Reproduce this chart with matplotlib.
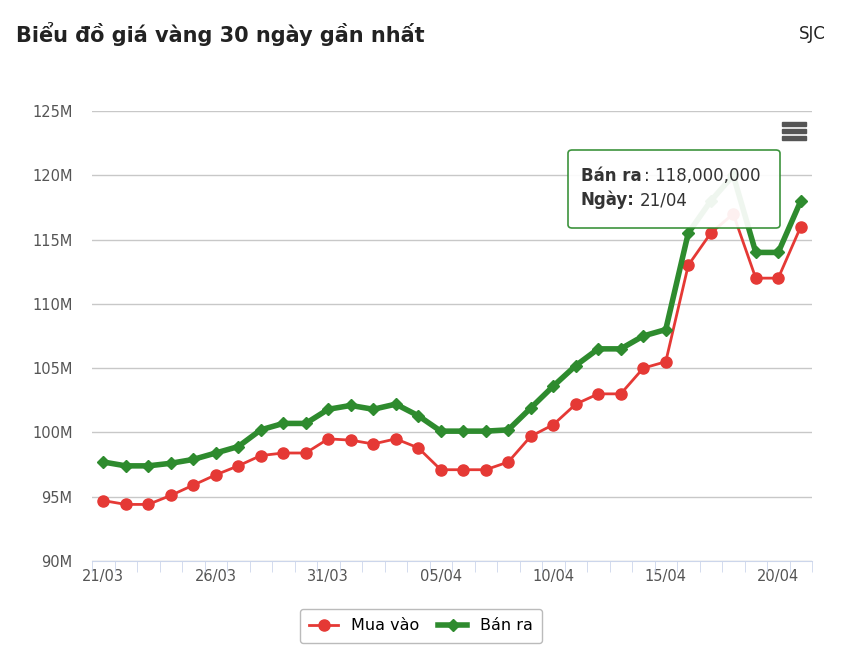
import matplotlib
matplotlib.use("Agg")
import matplotlib.pyplot as plt
from matplotlib.patches import FancyBboxPatch, Rectangle

dates = ["21/03","22/03","23/03","24/03","25/03","26/03","27/03","28/03","29/03","30/03","31/03",
         "01/04","02/04","03/04","04/04","05/04","06/04","07/04","08/04","09/04","10/04","11/04",
         "12/04","13/04","14/04","15/04","16/04","17/04","18/04","19/04","20/04","21/04"]
mua_vao = [94.7,94.4,94.4,95.1,95.9,96.7,97.4,98.2,98.4,98.4,99.5,99.4,99.1,99.5,98.8,97.1,
           97.1,97.1,97.7,99.7,100.6,102.2,103.0,103.0,105.0,105.5,113.0,115.5,117.0,112.0,112.0,116.0]
ban_ra = [97.7,97.4,97.4,97.6,97.9,98.4,98.9,100.2,100.7,100.7,101.8,102.1,101.8,102.2,101.3,100.1,
          100.1,100.1,100.2,101.9,103.6,105.2,106.5,106.5,107.5,108.0,115.5,118.0,120.0,114.0,114.0,118.0]
yticks = [90,95,100,105,110,115,120,125]

W, H = 842, 651
fig = plt.figure(figsize=(W/100, H/100), dpi=100)
ax = fig.add_axes([92/W, 1-561/H, (812-92)/W, (561-111)/H])
x = list(range(len(dates)))
red, green = "#e53935", "#2e8b2e"
ax.plot(x, mua_vao, color=red, lw=2, marker="o", ms=8, label="Mua vào", zorder=3)
ax.plot(x, ban_ra, color=green, lw=4, marker="D", ms=6, label="Bán ra", zorder=4)
ax.set_xlim(-0.5, len(dates)-0.5)
ax.set_ylim(90, 125)
ax.set_yticks(yticks)
ax.set_yticklabels([f"{v}M" for v in yticks], color="#555555", fontsize=10.5)
ax.set_xticks(x[::5])
ax.set_xticklabels(dates[::5], color="#555555", fontsize=10.5)
ax.set_xticks([i-0.5 for i in range(len(dates)+1)], minor=True)
ax.tick_params(axis="x", which="major", length=0, pad=6)
ax.tick_params(axis="x", which="minor", length=8, color="#ccd6eb")
ax.tick_params(axis="y", length=0, pad=14)
ax.grid(axis="y", color="#c8c8c8", lw=1)
ax.set_axisbelow(True)
for s in ["top","right","left"]:
    ax.spines[s].set_visible(False)
ax.spines["bottom"].set_color("#ccd6eb")

fig.text(16/W, 1-34/H, "Biểu đồ giá vàng 30 ngày gần nhất", fontsize=15, fontweight="bold",
         color="#222222", va="center")
fig.text(826/W, 1-34/H, "SJC", fontsize=12, color="#222222", va="center", ha="right")

# menu icon
for yy in [124, 131, 138]:
    fig.patches.append(Rectangle((782/W, 1-(yy+2)/H), 24/W, 4/H, transform=fig.transFigure,
                                 color="#555555"))

# tooltip
fig.patches.append(FancyBboxPatch((568/W, 1-228/H), 212/W, 78/H, boxstyle="round,pad=0,rounding_size=0.005",
                                  transform=fig.transFigure, fc="white", ec="#2e8b2e", lw=1.2, alpha=0.93, zorder=10))
fig.text(581/W, 1-176/H, "Bán ra", fontsize=12, fontweight="bold", color="#333", va="center", zorder=11)
fig.text(644/W, 1-176/H, ": 118,000,000", fontsize=12, color="#333", va="center", zorder=11)
fig.text(581/W, 1-200/H, "Ngày:", fontsize=12, fontweight="bold", color="#333", va="center", zorder=11)
fig.text(640/W, 1-200/H, "21/04", fontsize=12, color="#333", va="center", zorder=11)

leg = fig.legend(loc="center", bbox_to_anchor=(421/W, 1-626/H), ncol=2, frameon=True,
                 fontsize=11.5, handlelength=1.8, columnspacing=1.2, borderpad=0.6)
leg.get_frame().set_edgecolor("#aaaaaa")
leg.get_frame().set_linewidth(1)
fig.savefig("out.png", dpi=100)
